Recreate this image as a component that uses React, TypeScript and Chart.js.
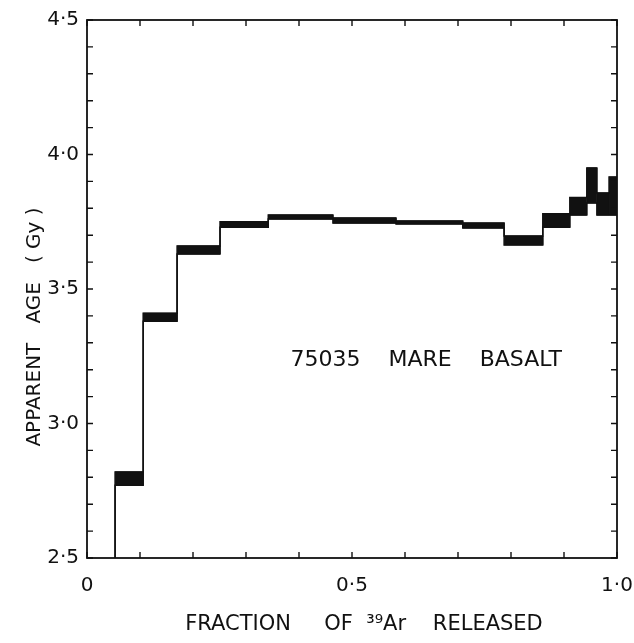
import React, { useEffect, useRef } from 'react';
import { Chart, registerables } from 'chart.js';

Chart.register(...registerables);

// Step boundaries (fraction of 39Ar released)
const stepEdges = [0.053, 0.106, 0.170, 0.251, 0.342, 0.464, 0.583, 0.709, 0.787, 0.860, 0.911, 0.943, 0.962, 0.985, 1.0];
// Apparent age band for each step (Gy)
const ageLow = [2.77, 3.38, 3.63, 3.73, 3.76, 3.745, 3.742, 3.727, 3.664, 3.73, 3.775, 3.82, 3.775, 3.775];
const ageHigh = [2.82, 3.41, 3.66, 3.75, 3.775, 3.764, 3.753, 3.745, 3.697, 3.78, 3.84, 3.95, 3.857, 3.916];

const xTickLabels: Record<number, string> = { 0: '0', 5: '0·5', 10: '1·0' };
const yTickLabels: Record<number, string> = { 25: '2·5', 30: '3·0', 35: '3·5', 40: '4·0', 45: '4·5' };
const xAxisTitle = 'FRACTION     OF  ³⁹Ar    RELEASED';
const yAxisTitle = 'APPARENT   AGE   ( Gy )';
const sampleLabel = '75035    MARE    BASALT';
const sampleLabelPos = { x: 0.64, y: 3.236 };

const INK = '#111';
const FONT = '"DejaVu Sans"';

export default function App() {
  const ref = useRef<HTMLCanvasElement | null>(null);

  useEffect(() => {
    if (!ref.current) return;
    const bandSets = ageLow.map((lo, i) => ({
      data: [
        { x: stepEdges[i], y: lo },
        { x: stepEdges[i + 1], y: lo },
        { x: stepEdges[i + 1], y: ageHigh[i] },
        { x: stepEdges[i], y: ageHigh[i] },
      ],
      fill: 'shape',
      backgroundColor: INK,
      borderColor: INK,
      borderWidth: 1,
      pointRadius: 0,
      tension: 0,
    }));
    const lowerPath: { x: number; y: number }[] = [{ x: stepEdges[0], y: 2.5 }];
    const upperPath: { x: number; y: number }[] = [{ x: stepEdges[0], y: 2.5 }];
    ageLow.forEach((lo, i) => {
      lowerPath.push({ x: stepEdges[i], y: lo }, { x: stepEdges[i + 1], y: lo });
      upperPath.push({ x: stepEdges[i], y: ageHigh[i] }, { x: stepEdges[i + 1], y: ageHigh[i] });
    });
    const pathSet = (d: { x: number; y: number }[]) => ({
      data: d,
      fill: false,
      borderColor: INK,
      borderWidth: 1.5,
      pointRadius: 0,
      tension: 0,
    });

    const framePlugin = {
      id: 'frame',
      afterDraw(chart: any) {
        const { ctx, chartArea: a, scales } = chart;
        const x = scales.x, y = scales.y;
        ctx.save();
        ctx.strokeStyle = INK;
        ctx.lineWidth = 1.8;
        ctx.strokeRect(a.left, a.top, a.right - a.left, a.bottom - a.top);
        ctx.lineWidth = 1.4;
        ctx.beginPath();
        x.ticks.forEach((t: any) => {
          const px = x.getPixelForValue(t.value);
          ctx.moveTo(px, a.bottom); ctx.lineTo(px, a.bottom - 6);
          ctx.moveTo(px, a.top); ctx.lineTo(px, a.top + 6);
        });
        y.ticks.forEach((t: any) => {
          const py = y.getPixelForValue(t.value);
          ctx.moveTo(a.left, py); ctx.lineTo(a.left + 6, py);
          ctx.moveTo(a.right, py); ctx.lineTo(a.right - 6, py);
        });
        ctx.stroke();
        ctx.fillStyle = INK;
        ctx.textAlign = 'center';
        ctx.textBaseline = 'middle';
        // sample annotation
        ctx.font = `22px ${FONT}`;
        ctx.fillText(sampleLabel, x.getPixelForValue(sampleLabelPos.x), y.getPixelForValue(sampleLabelPos.y));
        // x axis title
        ctx.font = `21px ${FONT}`;
        ctx.fillText(xAxisTitle, (a.left + a.right) / 2 + 12, a.bottom + 67);
        // y axis title
        ctx.font = `20px ${FONT}`;
        ctx.translate(35, (a.top + a.bottom) / 2 + 38);
        ctx.rotate(-Math.PI / 2);
        ctx.fillText(yAxisTitle, 0, 0);
        ctx.restore();
      },
    };

    const chart = new Chart(ref.current, {
      type: 'line',
      data: { datasets: [...bandSets, pathSet(lowerPath), pathSet(upperPath)] as any },
      options: {
        animation: false,
        responsive: true,
        maintainAspectRatio: false,
        layout: { padding: { left: 0, right: 17, top: 20, bottom: 0 } },
        plugins: { legend: { display: false }, tooltip: { enabled: false } },
        scales: {
          x: {
            type: 'linear',
            min: 0,
            max: 1,
            border: { display: false },
            grid: { display: false, drawTicks: false },
            ticks: {
              stepSize: 0.1,
              autoSkip: false,
              maxRotation: 0,
              padding: 16,
              color: INK,
              font: { family: 'DejaVu Sans', size: 20 },
              callback: (v: any) => xTickLabels[Math.round(Number(v) * 10)] ?? '',
            },
            title: { display: false },
            afterFit: (s: any) => { s.height = 85; s.paddingLeft = 0; s.paddingRight = 0; },
          },
          y: {
            type: 'linear',
            min: 2.5,
            max: 4.5,
            border: { display: false },
            grid: { display: false, drawTicks: false },
            ticks: {
              stepSize: 0.1,
              autoSkip: false,
              padding: 8,
              color: INK,
              font: { family: 'DejaVu Sans', size: 20 },
              callback: (v: any) => yTickLabels[Math.round(Number(v) * 10)] ?? '',
            },
            title: { display: false },
            afterFit: (s: any) => { s.width = 87; s.paddingTop = 0; s.paddingBottom = 0; },
          },
        },
      },
      plugins: [framePlugin],
    });
    return () => chart.destroy();
  }, []);

  return (
    <div style={{ position: 'fixed', left: 0, top: 0, width: 634, height: 643, background: '#fff' }}>
      <canvas ref={ref} />
    </div>
  );
}
